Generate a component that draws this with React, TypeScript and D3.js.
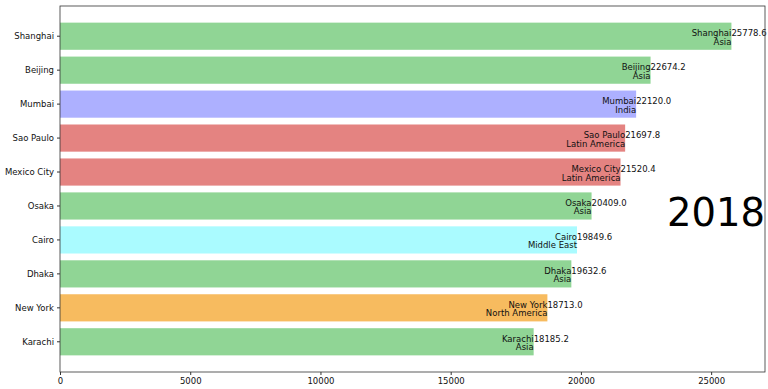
import React, { useEffect, useRef } from 'react';
import * as d3 from 'd3';

const cities = ['Shanghai', 'Beijing', 'Mumbai', 'Sao Paulo', 'Mexico City', 'Osaka', 'Cairo', 'Dhaka', 'New York', 'Karachi'];
const populations = [25778.6, 22674.2, 22120.0, 21697.8, 21520.4, 20409.0, 19849.6, 19632.6, 18713.0, 18185.2];
const regions = ['Asia', 'Asia', 'India', 'Latin America', 'Latin America', 'Asia', 'Middle East', 'Asia', 'North America', 'Asia'];
const xTicks = [0, 5000, 10000, 15000, 20000, 25000];
const year = '2018';

const regionColors: Record<string, string> = {
  'India': '#adb0ff',
  'Europe': '#ffb3ff',
  'Asia': '#90d595',
  'Latin America': '#e48381',
  'Middle East': '#aafbff',
  'North America': '#f7bb5f',
  'Africa': '#eafb50',
};

const W = 768;
const H = 389;
const margin = { top: 6, right: 3, bottom: 17, left: 60 };
const FONT = 'DejaVu Sans, sans-serif';
const FS = 8.5;

export default function App() {
  const xAxisRef = useRef<SVGGElement>(null);
  const yAxisRef = useRef<SVGGElement>(null);

  const width = W - margin.left - margin.right;
  const height = H - margin.top - margin.bottom;

  // matplotlib-style autoscale: 5% margin on the right
  const x = d3.scaleLinear()
    .domain([0, d3.max(populations)! * 1.05])
    .range([0, width]);

  const y = d3.scaleBand<string>()
    .domain(cities)
    .range([0, height])
    .paddingInner(0.2)
    .paddingOuter(0.49);

  const fmt = d3.format('.1f');

  useEffect(() => {
    const xa = d3.select(xAxisRef.current!)
      .call(d3.axisBottom(x).tickValues(xTicks).tickFormat(d3.format('d')).tickSize(3).tickPadding(3));
    xa.select('.domain').remove();
    xa.selectAll('text').attr('font-size', FS).attr('font-family', FONT).attr('fill', '#111');
    xa.selectAll('line').attr('stroke', '#333');

    const ya = d3.select(yAxisRef.current!)
      .call(d3.axisLeft(y).tickSize(3).tickPadding(3));
    ya.select('.domain').remove();
    ya.selectAll('text').attr('font-size', FS).attr('font-family', FONT).attr('fill', '#111');
    ya.selectAll('line').attr('stroke', '#333');
  }, []);

  const bw = y.bandwidth();
  const half = y.step() / 2;

  return (
    <svg width={W} height={H} style={{ position: 'absolute', left: 0, top: 0, background: '#fff' }}>
      <g transform={`translate(${margin.left},${margin.top})`}>
        {cities.map((c, i) => (
          <rect key={c} x={x(0)} y={y(c)!} width={x(populations[i]) - x(0)} height={bw} fill={regionColors[regions[i]]} />
        ))}
        {cities.map((c, i) => {
          const cy = y(c)! + bw / 2;
          const vx = x(populations[i]);
          return (
            <g key={c + '-lbl'} fontFamily={FONT} fontSize={FS} fill="#111">
              <text x={vx} y={cy} textAnchor="end">{c}</text>
              <text x={vx} y={cy + half * 0.5} textAnchor="end">{regions[i]}</text>
              <text x={vx} y={cy} textAnchor="start">{fmt(populations[i])}</text>
            </g>
          );
        })}
        <text x={width} y={height * 0.6} textAnchor="end" fontFamily={FONT} fontSize={38.5} fill="#000">{year}</text>
        <rect x={0} y={0} width={width} height={height} fill="none" stroke="#333" strokeWidth={0.8} />
        <g ref={xAxisRef} transform={`translate(0,${height})`} />
        <g ref={yAxisRef} />
      </g>
    </svg>
  );
}
